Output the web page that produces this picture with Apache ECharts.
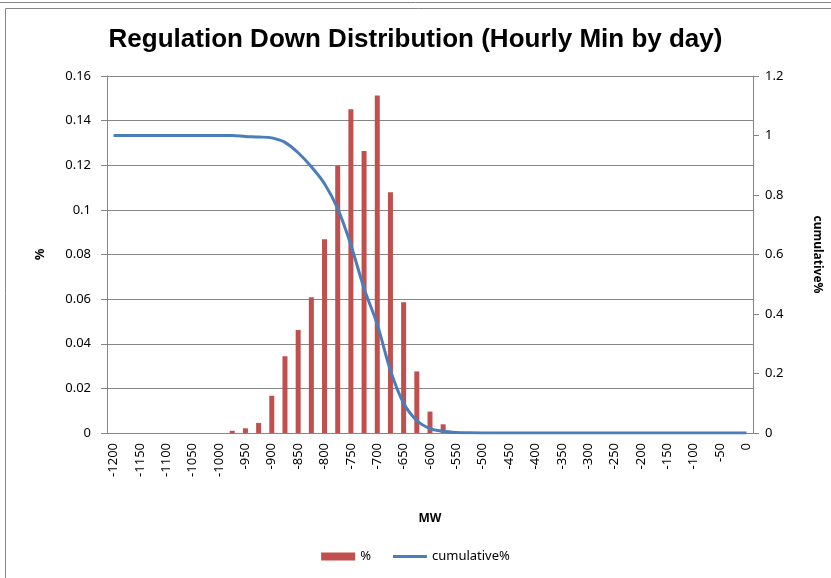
<!DOCTYPE html>
<html>
<head>
<meta charset="utf-8">
<script src="https://cdn.jsdelivr.net/npm/echarts@6/dist/echarts.min.js"></script>
<style>
  html, body { margin: 0; padding: 0; background: #fff; }
  #chart { width: 831px; height: 578px; }
</style>
</head>
<body>
<div id="chart"></div>
<script>
  // MW buckets, 25 MW wide
  var categories = [
    '-1200', '-1175', '-1150', '-1125', '-1100', '-1075', '-1050', '-1025', '-1000',
    '-975', '-950', '-925', '-900', '-875', '-850', '-825', '-800',
    '-775', '-750', '-725', '-700', '-675', '-650', '-625', '-600',
    '-575', '-550', '-525', '-500', '-475', '-450', '-425', '-400',
    '-375', '-350', '-325', '-300', '-275', '-250', '-225', '-200',
    '-175', '-150', '-125', '-100', '-75', '-50', '-25', '0'
  ]

  // share of days in each bucket
  var pct = [
    0, 0, 0, 0, 0, 0, 0, 0, 0,
    0.001, 0.0021, 0.0045, 0.0167, 0.0344, 0.0462, 0.0608, 0.0868,
    0.1197, 0.1451, 0.1264, 0.1513, 0.1079, 0.0586, 0.0276, 0.0096,
    0.0039, 0.0005, 0, 0, 0, 0, 0, 0,
    0, 0, 0, 0, 0, 0, 0, 0,
    0, 0, 0, 0, 0, 0, 0, 0
  ]

  // cumulative share
  var cumulative = [
    1, 1, 1, 1, 1, 1, 1, 1, 1,
    1, 0.997, 0.995, 0.992, 0.977, 0.942, 0.895, 0.838,
    0.754, 0.632, 0.486, 0.365, 0.21, 0.1, 0.042, 0.015,
    0.006, 0.002, 0.0005, 0, 0, 0, 0, 0,
    0, 0, 0, 0, 0, 0, 0, 0,
    0, 0, 0, 0, 0, 0, 0, 0
  ]

  var leftTicks = [0, 0.02, 0.04, 0.06, 0.08, 0.1, 0.12, 0.14, 0.16]
  var rightTicks = [0, 0.2, 0.4, 0.6, 0.8, 1, 1.2]

  var font = 'Noto Sans'
  var axisGray = '#868686'

  var chart = echarts.init(document.getElementById('chart'))

  var option = {
    animation: false,
    textStyle: { fontFamily: font, color: '#000' },
    title: {
      text: 'Regulation Down Distribution (Hourly Min by day)',
      left: 'center',
      top: 22,
      textStyle: {
        fontFamily: 'Liberation Sans',
        fontWeight: 'bold',
        fontSize: 26,
        color: '#000'
      }
    },
    // outer frame of the sheet chart
    graphic: [
      {
        type: 'rect',
        shape: { x: 5.5, y: 8.5, width: 840, height: 600 },
        style: { fill: 'none', stroke: axisGray, lineWidth: 1 }
      },
      {
        type: 'line',
        shape: { x1: 0, y1: 2.5, x2: 831, y2: 2.5 },
        style: { stroke: axisGray, lineWidth: 1 }
      }
    ],
    legend: {
      bottom: 10,
      left: 'center',
      itemGap: 22,
      itemWidth: 34,
      itemHeight: 8,
      textStyle: { fontFamily: font, fontSize: 13, color: '#000' },
      data: [
        { name: '%', icon: 'rect' },
        { name: 'cumulative%', icon: 'path://M0,0 H34 V3 H0 Z' }
      ]
    },
    grid: {
      left: 107,
      right: 78,
      top: 76,
      bottom: 145,
      containLabel: false
    },
    xAxis: {
      type: 'category',
      data: categories,
      name: 'MW',
      nameLocation: 'middle',
      nameGap: 80,
      nameTextStyle: { fontFamily: font, fontWeight: 'bold', fontSize: 12, color: '#000' },
      axisLine: { lineStyle: { color: axisGray } },
      axisTick: { interval: 0, length: 5, lineStyle: { color: axisGray } },
      axisLabel: {
        interval: 1,
        rotate: 90,
        margin: 10,
        fontSize: 13,
        color: '#000'
      },
      splitLine: { show: false }
    },
    yAxis: [
      {
        type: 'value',
        min: leftTicks[0],
        max: leftTicks[leftTicks.length - 1],
        interval: 0.02,
        name: '%',
        nameLocation: 'middle',
        nameRotate: 90,
        nameGap: 60,
        nameTextStyle: { fontFamily: font, fontWeight: 'bold', fontSize: 13, color: '#000' },
        axisLine: { show: true, lineStyle: { color: axisGray } },
        axisTick: { show: true, length: 6, lineStyle: { color: axisGray } },
        axisLabel: { fontSize: 13, color: '#000', margin: 16 },
        splitLine: { lineStyle: { color: axisGray } }
      },
      {
        type: 'value',
        position: 'right',
        min: rightTicks[0],
        max: rightTicks[rightTicks.length - 1],
        interval: 0.2,
        name: 'cumulative%',
        nameLocation: 'middle',
        nameRotate: -90,
        nameGap: 58,
        nameTextStyle: { fontFamily: font, fontWeight: 'bold', fontSize: 12, color: '#000' },
        axisLine: { show: true, lineStyle: { color: axisGray } },
        axisTick: { show: true, length: 6, lineStyle: { color: axisGray } },
        axisLabel: { fontSize: 13, color: '#000', margin: 12 },
        splitLine: { show: false }
      }
    ],
    series: [
      {
        name: '%',
        type: 'bar',
        yAxisIndex: 0,
        data: pct,
        barWidth: 5,
        itemStyle: { color: '#C0504D' }
      },
      {
        name: 'cumulative%',
        type: 'line',
        yAxisIndex: 1,
        data: cumulative,
        smooth: 0.3,
        symbol: 'none',
        lineStyle: { color: '#4A7EBB', width: 3 },
        itemStyle: { color: '#4A7EBB' }
      }
    ]
  }

  chart.setOption(option)
</script>
</body>
</html>
